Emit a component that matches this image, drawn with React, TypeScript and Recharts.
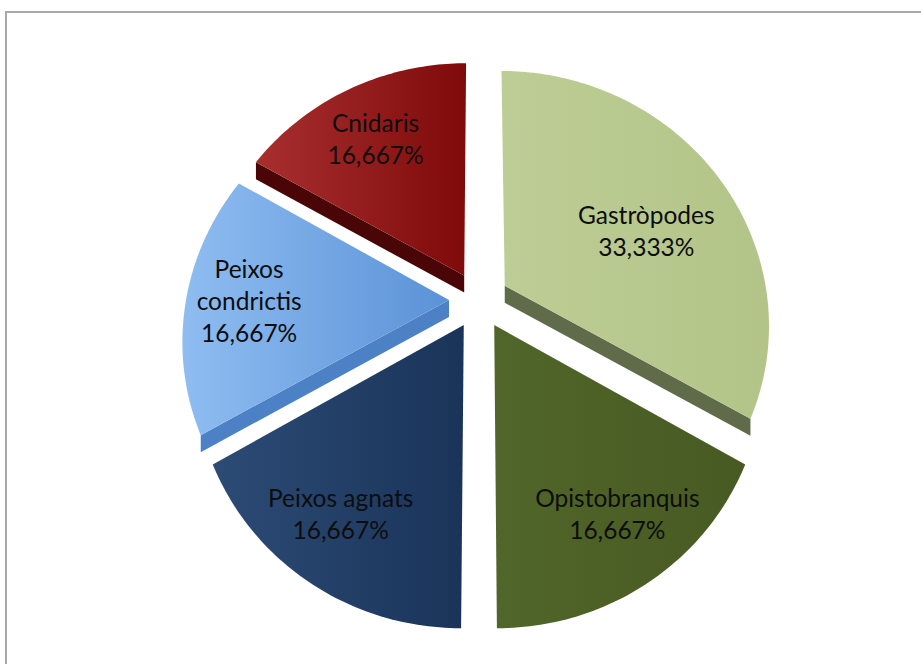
import React from 'react';
import { PieChart, Pie } from 'recharts';

const groups = ['Gastròpodes', 'Opistobranquis', 'Peixos agnats', 'Peixos condrictis', 'Cnidaris'];
const counts = [2, 1, 1, 1, 1];

// face gradient (left -> right) and the darker side colour
const faceLight = ['#bdcd95', '#51662a', '#2c4b75', '#8fbdf1', '#a92f2f'];
const faceDark = ['#b3c488', '#475a22', '#1a3459', '#5b92d7', '#7f0a0a'];
const sideColors = ['#5f6b49', '#33421a', '#142a48', '#4c81c6', '#4a0606'];

const data = groups.map((name, i) => ({ name, value: counts[i] }));

const EXPLODE = 30;
const DEPTH = 17;
const PERSP = 0.00056; // fake tilt, near edge looks bigger
const SQUASH = 0.952;
const RAD = Math.PI / 180;

function project(cx: number, cy: number, px: number, py: number): [number, number] {
  const k = 1 / (1 - PERSP * py);
  return [cx + px * k, cy + SQUASH * py * k];
}

function SliceShape(props: any) {
  const { cx, cy, startAngle, endAngle, midAngle, outerRadius, index } = props;
  const ox = EXPLODE * Math.cos(midAngle * RAD);
  const oy = -EXPLODE * Math.sin(midAngle * RAD);
  const pt = (a: number, r: number) =>
    project(cx, cy, ox + r * Math.cos(a * RAD), oy - r * Math.sin(a * RAD));

  const steps = Math.max(8, Math.ceil(Math.abs(startAngle - endAngle)));
  const pts: [number, number][] = [pt(0, 0)];
  for (let s = 0; s <= steps; s++) {
    const a = startAngle + ((endAngle - startAngle) * s) / steps;
    pts.push(pt(a, outerRadius));
  }
  const face = 'M' + pts.map((p) => `${p[0].toFixed(2)},${p[1].toFixed(2)}`).join('L') + 'Z';

  // radial edges whose outside faces downwards show the slice thickness
  const sides = [startAngle, endAngle]
    .filter((a) => -Math.sign(Math.sin((a - midAngle) * RAD)) * Math.cos(a * RAD) > 0.01)
    .map((a) => {
      const p0 = pt(0, 0);
      const p1 = pt(a, outerRadius);
      return `M${p0[0]},${p0[1]}L${p1[0]},${p1[1]}L${p1[0]},${p1[1] + DEPTH}L${p0[0]},${p0[1] + DEPTH}Z`;
    });

  const gid = `slice-grad-${index}`;
  return (
    <g>
      <defs>
        <linearGradient id={gid} x1="0" y1="0" x2="1" y2="0">
          <stop offset="0%" stopColor={faceLight[index]} />
          <stop offset="100%" stopColor={faceDark[index]} />
        </linearGradient>
      </defs>
      {sides.map((d, i) => (
        <path key={i} d={d} fill={sideColors[index]} />
      ))}
      <path d={face} fill={`url(#${gid})`} />
    </g>
  );
}

const renderLabel = (props: any) => {
  const { cx, cy, midAngle, outerRadius, percent, name } = props;
  const span = percent * 360;
  const f = percent > 0.25 ? 0.62 : 0.76;
  // big slices: nudge label a bit clockwise, like Excel does
  const a = midAngle - Math.max(0, span - 60) / 10;
  const s = Math.sin(a * RAD);
  const px = EXPLODE * Math.cos(midAngle * RAD) + f * outerRadius * Math.cos(a * RAD);
  const py = -EXPLODE * Math.sin(midAngle * RAD) - f * outerRadius * Math.sin(a * RAD);
  const [xp, yp] = project(cx, cy, px, py);
  // far half labels sit a bit lower, near half labels spread a bit wider
  const y = yp + 10 * Math.max(0, s);
  const x = cx + (xp - cx) * (1 + 0.08 * Math.max(0, -s));
  const nameLines = name.includes(' ') && name.length > 14 ? name.split(' ') : [name];
  const lines = [...nameLines, `${(percent * 100).toFixed(3).replace('.', ',')}%`];
  const lh = 32;
  const y0 = y - ((lines.length - 1) * lh) / 2;
  return (
    <text
      x={x}
      y={y0}
      textAnchor="middle"
      dominantBaseline="central"
      fill="#0d0d0d"
      style={{ fontFamily: 'Lato, "Open Sans", sans-serif', fontSize: 24.5 }}
    >
      {lines.map((l, i) => (
        <tspan key={i} x={x} y={y0 + i * lh}>
          {l}
        </tspan>
      ))}
    </text>
  );
};

export default function App() {
  return (
    <div style={{ position: 'absolute', left: 0, top: 0, width: 921, height: 664, overflow: 'hidden', background: '#fff' }}>
      <div
        style={{
          position: 'absolute',
          left: 5,
          top: 11,
          width: 940,
          height: 680,
          border: '2px solid #a8a8a8',
        }}
      />
      <PieChart width={921} height={664} style={{ position: 'absolute', left: 0, top: 0 }}>
        <Pie
          data={data}
          dataKey="value"
          nameKey="name"
          cx={474}
          cy={295}
          outerRadius={263}
          startAngle={90}
          endAngle={-270}
          stroke="none"
          shape={SliceShape}
          inactiveShape={SliceShape}
          activeShape={SliceShape}
          label={renderLabel}
          labelLine={false}
          isAnimationActive={false}
        />
      </PieChart>
    </div>
  );
}
